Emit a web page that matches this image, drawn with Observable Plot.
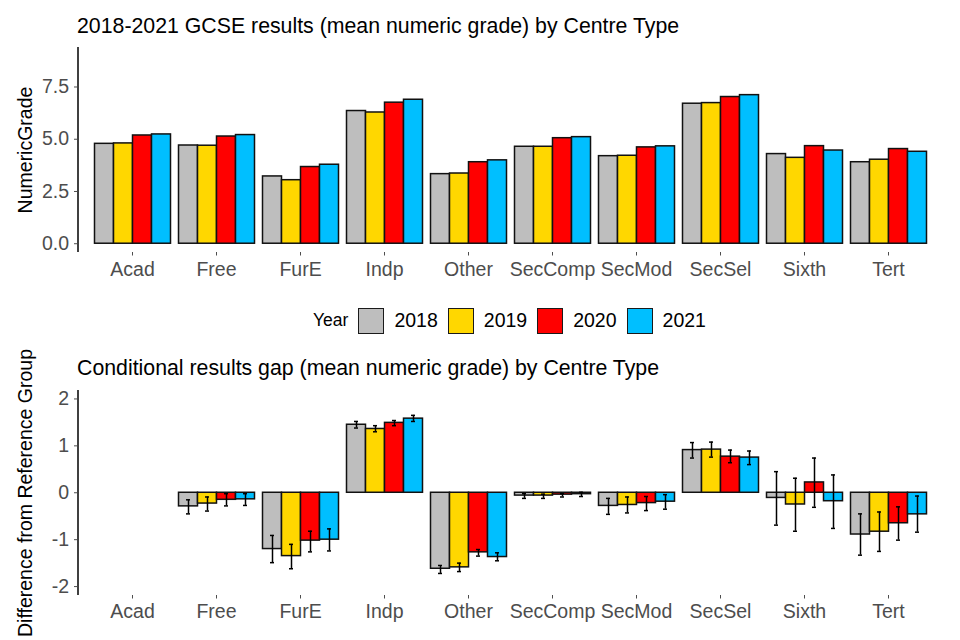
<!DOCTYPE html>
<html>
<head>
<meta charset="utf-8">
<script src="https://cdn.jsdelivr.net/npm/d3@7"></script>
<script src="https://cdn.jsdelivr.net/npm/@observablehq/plot@0.6"></script>
<style>
  html, body { margin: 0; padding: 0; background: #fff; }
  #page { position: relative; width: 960px; height: 640px; overflow: hidden; background: #fff;
          font-family: "Liberation Sans", Arial, Helvetica, sans-serif; }
  .abs { position: absolute; }
  .title { font-size: 21.3px; line-height: 1; color: #000; white-space: nowrap; }
  #legend { display: flex; justify-content: center; align-items: center; gap: 10px; height: 27px; }
  #legend .lab { font-size: 19.5px; color: #000; line-height: 1; }
  #legend .ttl { font-size: 17.5px; color: #000; line-height: 1; }
  #legend .key { width: 24px; height: 24px; border: 1.5px solid #1a1a1a; }
  svg { overflow: visible; }
</style>
</head>
<body>
<div id="page">
  <div class="abs title" style="left:77px; top:15.5px;">2018-2021 GCSE results (mean numeric grade) by Centre Type</div>
  <div class="abs" id="p1bars" style="left:0; top:40px;"></div>
  <div class="abs" id="p1axis" style="left:0; top:40px;"></div>
  <div class="abs" id="legend" style="left:77.5px; top:307px; width:864px;"></div>
  <div class="abs title" style="left:77px; top:358px;">Conditional results gap (mean numeric grade) by Centre Type</div>
  <div class="abs" id="p2bars" style="left:0; top:385px;"></div>
  <div class="abs" id="p2axis" style="left:0; top:385px;"></div>
</div>
<script>
// ---------- data ----------
const categories = ["Acad", "Free", "FurE", "Indp", "Other", "SecComp", "SecMod", "SecSel", "Sixth", "Tert"];
const years = ["2018", "2019", "2020", "2021"];
const yearColors = ["#BEBEBE", "#FFD700", "#FF0000", "#00BFFF"];

// mean numeric grade
const grade2018 = [4.78, 4.70, 3.22, 6.35, 3.33, 4.64, 4.19, 6.70, 4.29, 3.90];
const grade2019 = [4.80, 4.69, 3.04, 6.28, 3.36, 4.64, 4.21, 6.73, 4.11, 4.02];
const grade2020 = [5.18, 5.13, 3.67, 6.75, 3.90, 5.05, 4.61, 7.02, 4.67, 4.53];
const grade2021 = [5.23, 5.20, 3.78, 6.89, 3.99, 5.10, 4.66, 7.11, 4.46, 4.40];

// conditional gap vs reference group (Acad), with lower / upper limits
const gap2018 = [null, -0.29, -1.20, 1.45, -1.62, -0.06, -0.28, 0.91, -0.11, -0.89];
const lo2018  = [null, -0.45, -1.49, 1.38, -1.72, -0.12, -0.46, 0.74, -0.69, -1.33];
const hi2018  = [null, -0.15, -0.91, 1.52, -1.55, -0.02, -0.12, 1.07, 0.45, -0.45];
const gap2019 = [null, -0.23, -1.35, 1.36, -1.59, -0.06, -0.26, 0.92, -0.25, -0.83];
const lo2019  = [null, -0.39, -1.62, 1.30, -1.68, -0.12, -0.43, 0.76, -0.82, -1.25];
const hi2019  = [null, -0.09, -1.10, 1.43, -1.50, -0.03, -0.09, 1.08, 0.31, -0.41];
const gap2020 = [null, -0.15, -1.02, 1.49, -1.27, -0.04, -0.22, 0.77, 0.22, -0.65];
const lo2020  = [null, -0.28, -1.26, 1.43, -1.35, -0.09, -0.38, 0.64, -0.31, -1.01];
const hi2020  = [null, -0.02, -0.82, 1.54, -1.21, -0.02, -0.08, 0.91, 0.74, -0.30];
const gap2021 = [null, -0.14, -1.00, 1.58, -1.37, -0.03, -0.19, 0.75, -0.18, -0.46];
const lo2021  = [null, -0.27, -1.24, 1.52, -1.45, -0.08, -0.35, 0.60, -0.76, -0.84];
const hi2021  = [null, -0.02, -0.77, 1.65, -1.28, 0.01, -0.04, 0.89, 0.38, -0.07];

const gradeTicks = [0, 2.5, 5, 7.5];
const gapTicks = [-2, -1, 0, 1, 2];

// ---------- tables ----------
const gradeSeries = [grade2018, grade2019, grade2020, grade2021];
const gapSeries = [[gap2018, lo2018, hi2018], [gap2019, lo2019, hi2019], [gap2020, lo2020, hi2020], [gap2021, lo2021, hi2021]];

const gradeRows = [];
years.forEach((yr, j) => categories.forEach((c, i) => gradeRows.push({cat: c, year: yr, value: gradeSeries[j][i]})));
const gapRows = [];
years.forEach((yr, j) => categories.forEach((c, i) => {
  const [g, lo, hi] = gapSeries[j];
  if (g[i] != null) gapRows.push({cat: c, year: yr, value: g[i], lo: lo[i], hi: hi[i]});
}));

// ---------- layout / style ----------
const FONT = "Liberation Sans, Arial, Helvetica, sans-serif";
const W = 960, ML = 77.5, MR = 18.5;
const TICK_COLOR = "#4D4D4D";

function barsPlot({rows, yDomain, height, marginTop, marginBottom, errors, tickPadding}) {
  const marks = [
    Plot.barY(rows, {fx: "cat", x: "year", y1: 0, y2: "value", fill: "year", stroke: "#111", strokeWidth: 1.5})
  ];
  if (errors) {
    marks.push(Plot.ruleX(rows, {fx: "cat", x: "year", y1: "lo", y2: "hi", stroke: "#000", strokeWidth: 1.5}));
    marks.push(Plot.tickY(rows, {fx: "cat", x: "year", y: "lo", stroke: "#000", strokeWidth: 1.5, insetLeft: 7.5, insetRight: 7.5}));
    marks.push(Plot.tickY(rows, {fx: "cat", x: "year", y: "hi", stroke: "#000", strokeWidth: 1.5, insetLeft: 7.5, insetRight: 7.5}));
  }
  marks.push(Plot.axisFx({anchor: "bottom", tickSize: 3.5, tickPadding, label: null, fontSize: 19.5, color: TICK_COLOR}));
  return Plot.plot({
    width: W, height, marginLeft: ML, marginRight: MR, marginTop, marginBottom,
    fx: {domain: categories, paddingInner: 0.1, paddingOuter: 0.15, label: null},
    x: {domain: years, padding: 0, axis: null},
    y: {domain: yDomain, axis: null},
    color: {domain: years, range: yearColors},
    style: {fontFamily: FONT, fontSize: "19.5px", background: "transparent", overflow: "visible"},
    marks
  });
}

function axisPlot({yDomain, ticks, tickFormat, label, height, marginTop, marginBottom}) {
  return Plot.plot({
    width: W, height, marginLeft: ML, marginRight: MR, marginTop, marginBottom,
    x: {domain: [0, 1], axis: null},
    y: {domain: yDomain, axis: null},
    style: {fontFamily: FONT, fontSize: "19.5px", background: "transparent", overflow: "visible"},
    marks: [
      Plot.ruleX([0], {stroke: "#000", strokeWidth: 1.5}),
      Plot.axisY({ticks, tickFormat, tickSize: 3.5, tickPadding: 5.5, label: null, fontSize: 19.5, color: TICK_COLOR}),
      Plot.text([label], {text: d => d, frameAnchor: "left", textAnchor: "middle", rotate: -90, dx: -52, fontSize: 19.5, fill: "#000"})
    ]
  });
}

const gradeDomain = [-0.42, 9.39];
const gapDomain = [-2.19, 2.18];

document.getElementById("p1bars").append(barsPlot({rows: gradeRows, yDomain: gradeDomain, height: 250, marginTop: 7, marginBottom: 38, errors: false, tickPadding: 6}));
document.getElementById("p1axis").append(axisPlot({yDomain: gradeDomain, ticks: gradeTicks, tickFormat: d3.format(".1f"), label: "NumericGrade", height: 250, marginTop: 7, marginBottom: 38}));
document.getElementById("p2bars").append(barsPlot({rows: gapRows, yDomain: gapDomain, height: 255, marginTop: 5, marginBottom: 45, errors: true, tickPadding: 5}));
document.getElementById("p2axis").append(axisPlot({yDomain: gapDomain, ticks: gapTicks, tickFormat: d => String(d), label: "Difference from Reference Group", height: 255, marginTop: 5, marginBottom: 45}));

// legend
const legend = document.getElementById("legend");
const t = document.createElement("span"); t.className = "ttl"; t.textContent = "Year"; legend.append(t);
years.forEach((yr, i) => {
  const k = document.createElement("span"); k.className = "key"; k.style.background = yearColors[i]; legend.append(k);
  const l = document.createElement("span"); l.className = "lab"; l.textContent = yr; legend.append(l);
});
</script>
</body>
</html>
